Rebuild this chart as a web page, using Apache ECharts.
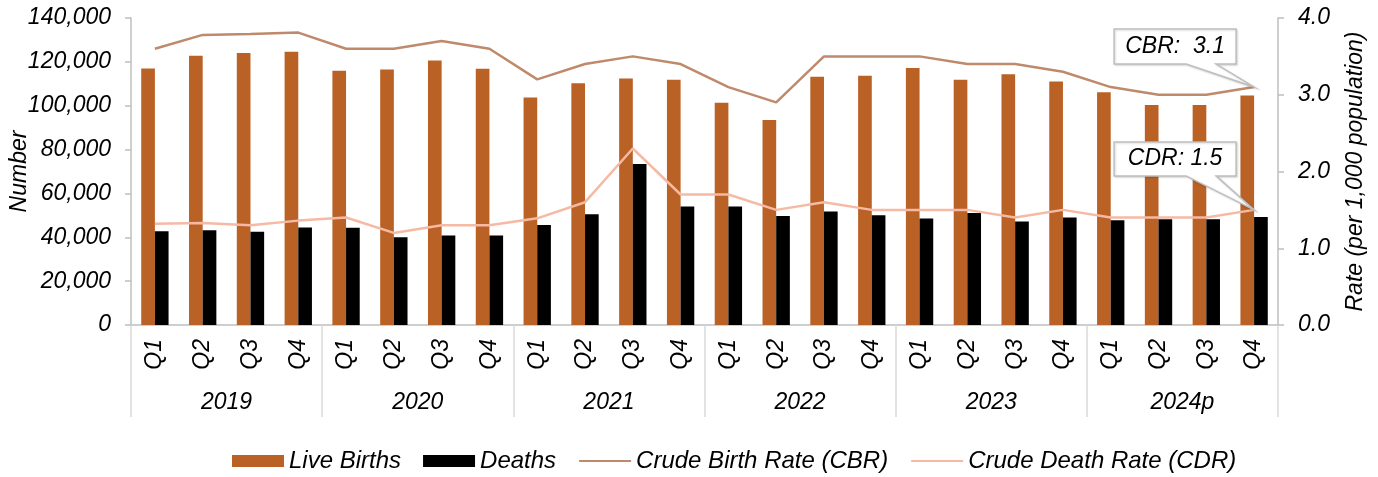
<!DOCTYPE html>
<html>
<head>
<meta charset="utf-8">
<script src="https://cdn.jsdelivr.net/npm/echarts@6/dist/echarts.min.js"></script>
<style>
    html, body {margin: 0; padding: 0; background: #fff;}
    #chart {width: 1378px; height: 477px;}
</style>
</head>
<body>
<div id="chart"></div>
<script>
var quarters = ['Q1', 'Q2', 'Q3', 'Q4', 'Q1', 'Q2', 'Q3', 'Q4', 'Q1', 'Q2', 'Q3', 'Q4',
    'Q1', 'Q2', 'Q3', 'Q4', 'Q1', 'Q2', 'Q3', 'Q4', 'Q1', 'Q2', 'Q3', 'Q4'];
var years = ['2019', '2020', '2021', '2022', '2023', '2024p'];
var liveBirths = [117000, 122800, 124000, 124600, 116000, 116500, 120650, 116900,
    103800, 110300, 112450, 111860, 101400, 93500, 113200, 113700,
    117150, 111860, 114400, 111000, 106100, 100300, 100300, 104700];
var deaths = [42800, 43260, 42500, 44500, 44300, 40060, 40800, 40800,
    45650, 50500, 73400, 54000, 54000, 49760, 51740, 50100,
    48570, 51130, 47200, 49030, 47800, 48260, 48260, 49300];
var cbr = [3.6, 3.78, 3.79, 3.81, 3.6, 3.6, 3.7, 3.6, 3.2, 3.4, 3.5, 3.4,
    3.1, 2.9, 3.5, 3.5, 3.5, 3.4, 3.4, 3.3, 3.1, 3.0, 3.0, 3.1];
var cdr = [1.32, 1.33, 1.3, 1.36, 1.4, 1.2, 1.3, 1.3, 1.39, 1.6, 2.3, 1.7,
    1.7, 1.5, 1.6, 1.5, 1.5, 1.5, 1.4, 1.5, 1.4, 1.4, 1.4, 1.5];
var callouts = [
    {text: 'CBR:  3.1', series: 2, value: 3.1},
    {text: 'CDR: 1.5', series: 3, value: 1.5}
];

var FONT = '"Liberation Sans", Arial, sans-serif';
var GREY = '#BFBFBF';
var txt = {fontFamily: FONT, fontStyle: 'italic', fontSize: 23, color: '#000'};

var chart = echarts.init(document.getElementById('chart'));
chart.setOption({
    animation: false,
    grid: {left: 131, right: 100, top: 18, bottom: 152, outerBoundsMode: 'none', containLabel: false},
    legend: {
        top: 449,
        left: 232,
        padding: 0,
        itemWidth: 52,
        itemHeight: 12,
        itemGap: 22,
        textStyle: Object.assign({}, txt, {fontSize: 24}),
        data: [
            {name: 'Live Births', icon: 'rect'},
            {name: 'Deaths', icon: 'rect'},
            {name: 'Crude Birth Rate (CBR)', itemStyle: {opacity: 0}},
            {name: 'Crude Death Rate (CDR)', itemStyle: {opacity: 0}}
        ]
    },
    xAxis: [
        {
            type: 'category',
            data: quarters,
            axisLine: {lineStyle: {color: GREY, width: 1.5}},
            axisTick: {show: false},
            axisLabel: Object.assign({rotate: 90, margin: 14, interval: 0}, txt)
        },
        {
            type: 'category',
            data: years,
            position: 'bottom',
            axisLine: {show: false},
            axisTick: {show: true, length: 92, lineStyle: {color: '#D9D9D9', width: 1.5}},
            axisLabel: Object.assign({margin: 66, interval: 0}, txt)
        }
    ],
    yAxis: [
        {
            type: 'value',
            min: 0, max: 140000, interval: 20000,
            name: 'Number',
            nameLocation: 'middle',
            nameGap: 100,
            nameMoveOverlap: false,
            nameRotate: 90,
            nameTextStyle: txt,
            splitLine: {show: false},
            axisLine: {show: true, lineStyle: {color: GREY, width: 1.5}},
            axisTick: {show: true, length: 6, lineStyle: {color: GREY, width: 1.5}},
            axisLabel: Object.assign({margin: 20, formatter: function (v) {
                return v.toLocaleString('en-US');
            }}, txt)
        },
        {
            type: 'value',
            min: 0, max: 4, interval: 1,
            name: 'Rate (per 1,000 population)',
            nameLocation: 'middle',
            nameGap: 66,
            nameMoveOverlap: false,
            nameRotate: 90,
            nameTextStyle: txt,
            splitLine: {show: false},
            axisLine: {show: true, lineStyle: {color: GREY, width: 1.5}},
            axisTick: {show: true, length: 6, lineStyle: {color: GREY, width: 1.5}},
            axisLabel: Object.assign({margin: 20, formatter: function (v) {
                return v.toFixed(1);
            }}, txt)
        }
    ],
    series: [
        {
            name: 'Live Births', type: 'bar', data: liveBirths,
            barWidth: '28.6%', barGap: '0%',
            itemStyle: {color: '#BA6125'}
        },
        {
            name: 'Deaths', type: 'bar', data: deaths,
            barWidth: '28.6%', barGap: '0%',
            itemStyle: {color: '#000000'}
        },
        {
            name: 'Crude Birth Rate (CBR)', type: 'line', yAxisIndex: 1, data: cbr,
            symbol: 'none', z: 5,
            lineStyle: {color: '#BF8A6B', width: 2.5},
            itemStyle: {color: '#BF8A6B'}
        },
        {
            name: 'Crude Death Rate (CDR)', type: 'line', yAxisIndex: 1, data: cdr,
            symbol: 'none', z: 5,
            lineStyle: {color: '#F5B9A4', width: 2.5},
            itemStyle: {color: '#F5B9A4'}
        }
    ]
});

// callout boxes pointing at the last quarter
function drawCallouts() {
    var elements = [];
    for (var i = 0; i < callouts.length; i++) {
        var c = callouts[i];
        var p = chart.convertToPixel({seriesIndex: c.series}, [quarters.length - 1, c.value]);
        var L = p[0] - 140, R = p[0] - 18, T = p[1] - (i == 0 ? 58 : 68), B = p[1] - (i == 0 ? 23 : 34);
        elements.push({
            type: 'polygon',
            z: 20,
            shape: {points: [[L, T], [R, T], [R, B], [p[0] - 38, B], [p[0], p[1]], [p[0] - 68, B], [L, B]]},
            style: {fill: '#fff', stroke: GREY, lineWidth: 1.5,
                shadowBlur: 2, shadowColor: 'rgba(0,0,0,0.15)', shadowOffsetX: 1, shadowOffsetY: 1}
        });
        elements.push({
            type: 'text',
            z: 21,
            x: (L + R) / 2,
            y: (T + B) / 2,
            style: {text: c.text, font: 'italic 23px ' + FONT, fill: '#000', align: 'center', verticalAlign: 'middle'}
        });
    }
    chart.setOption({graphic: elements});
}
drawCallouts();
</script>
</body>
</html>
